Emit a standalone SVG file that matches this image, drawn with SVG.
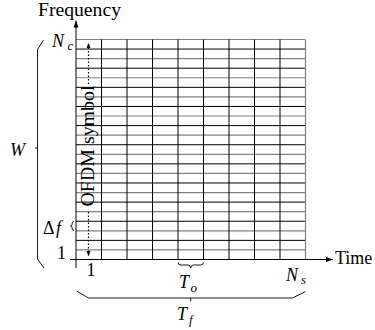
<svg xmlns="http://www.w3.org/2000/svg" width="375" height="330" viewBox="0 0 375 330">
<style>
.k{stroke:#000;stroke-width:1;fill:none}
.g{stroke:#808080;stroke-width:1.2;fill:none}
.br{stroke:#000;stroke-width:0.9;fill:none}
text{font-family:'Liberation Serif','Times New Roman','DejaVu Serif',serif;fill:#000}
.t{font-size:18px}
.i{font-style:italic}
.sub{font-style:italic;font-size:13px}
.dot{stroke:#000;stroke-width:1.2;stroke-dasharray:1.5 2;fill:none}
</style>
<defs>
<marker id="ah" viewBox="0 0 10 10" refX="10" refY="5" markerWidth="7" markerHeight="7" markerUnits="userSpaceOnUse" orient="auto">
<path d="M0,1.5 L10,5 L0,8.5 Z" fill="#000"/>
</marker>
<marker id="ahs" viewBox="0 0 10 10" refX="10" refY="5" markerWidth="5" markerHeight="5" markerUnits="userSpaceOnUse" orient="auto">
<path d="M0,1 L10,5 L0,9 Z" fill="#000"/>
</marker>
</defs>
<g id="grid">
<g id="grid-gray-h" class="g">
<line x1="76" y1="39.5" x2="305.5" y2="39.5"/>
<line x1="76" y1="58.63" x2="305.5" y2="58.63"/>
<line x1="76" y1="77.76" x2="305.5" y2="77.76"/>
<line x1="76" y1="96.89" x2="305.5" y2="96.89"/>
<line x1="76" y1="116.02" x2="305.5" y2="116.02"/>
<line x1="76" y1="135.15" x2="305.5" y2="135.15"/>
<line x1="76" y1="154.28" x2="305.5" y2="154.28"/>
<line x1="76" y1="173.41" x2="305.5" y2="173.41"/>
<line x1="76" y1="192.54" x2="305.5" y2="192.54"/>
<line x1="76" y1="211.67" x2="305.5" y2="211.67"/>
<line x1="76" y1="230.8" x2="305.5" y2="230.8"/>
<line x1="76" y1="249.93" x2="305.5" y2="249.93"/>
</g>
<g id="grid-black-h" class="k">
<line x1="76" y1="49.07" x2="305.5" y2="49.07"/>
<line x1="76" y1="68.2" x2="305.5" y2="68.2"/>
<line x1="76" y1="87.33" x2="305.5" y2="87.33"/>
<line x1="76" y1="106.46" x2="305.5" y2="106.46"/>
<line x1="76" y1="125.59" x2="305.5" y2="125.59"/>
<line x1="76" y1="144.72" x2="305.5" y2="144.72"/>
<line x1="76" y1="163.85" x2="305.5" y2="163.85"/>
<line x1="76" y1="182.98" x2="305.5" y2="182.98"/>
<line x1="76" y1="202.11" x2="305.5" y2="202.11"/>
<line x1="76" y1="221.24" x2="305.5" y2="221.24"/>
<line x1="76" y1="240.37" x2="305.5" y2="240.37"/>
</g>
<g id="grid-v" class="k">
<line x1="101.5" y1="39.5" x2="101.5" y2="259.5"/>
<line x1="127" y1="39.5" x2="127" y2="259.5"/>
<line x1="152.5" y1="39.5" x2="152.5" y2="259.5"/>
<line x1="178" y1="39.5" x2="178" y2="259.5"/>
<line x1="203.5" y1="39.5" x2="203.5" y2="259.5"/>
<line x1="229" y1="39.5" x2="229" y2="259.5"/>
<line x1="254.5" y1="39.5" x2="254.5" y2="259.5"/>
<line x1="280" y1="39.5" x2="280" y2="259.5"/>
</g>
<line class="g" x1="305.5" y1="39.5" x2="305.5" y2="259.5"/>
</g>
<g id="connectors">
<line class="k" x1="76" y1="268" x2="76" y2="20.5" marker-end="url(#ah)"/>
<line class="k" x1="70" y1="259.5" x2="333" y2="259.5" marker-end="url(#ah)"/>
<line class="dot" x1="88.5" y1="84" x2="88.5" y2="43" marker-end="url(#ahs)"/>
<line class="dot" x1="88.5" y1="212" x2="88.5" y2="256" marker-end="url(#ahs)"/>
</g>
<g id="braces">
<path id="brace-W" class="br" d="M43.5,40 L37.5,49.5 L37.5,259 L44,268 M37.5,148 L35,148"/>
<path id="brace-Tf" class="br" d="M76.5,291 L88.5,298 L292.5,298 L305.5,291.5 M190.7,298 L190.7,301.5"/>
<path id="brace-To" class="br" d="M178,262.5 Q178,265 181,265 L188,265 Q190.7,265 190.7,268 Q190.7,265 193.5,265 L200.5,265 Q203.5,265 203.5,262.5"/>
<path id="brace-df" class="br" d="M74,221.5 Q72,221.5 72,224 L72,224.5 Q72,226 70.5,226 Q72,226 72,227.5 L72,228 Q72,230.5 74,230.5"/>
</g>
<g id="labels">
<text class="t" x="38" y="16" textLength="83" lengthAdjust="spacingAndGlyphs">Frequency</text>
<text class="t" x="335" y="264">Time</text>
<text class="t i" x="10" y="156">W</text>
<text class="t i" x="52" y="47">N</text><text class="sub" x="67.5" y="50">c</text>
<text class="t" x="43" y="234">Δ</text><text class="t i" x="56" y="234">f</text>
<text class="t" x="57" y="259">1</text>
<text class="t" x="86.5" y="276">1</text>
<text class="t i" x="286" y="281">N</text><text class="sub" x="301" y="284">s</text>
<text class="t i" x="179" y="288">T</text><text class="sub" x="190.5" y="292">o</text>
<text class="t i" x="177" y="320">T</text><text class="sub" x="189" y="324">f</text>
<text class="t" transform="translate(93.5,146) rotate(-90)" text-anchor="middle" textLength="121" lengthAdjust="spacingAndGlyphs">OFDM symbol</text>
</g>
</svg>
